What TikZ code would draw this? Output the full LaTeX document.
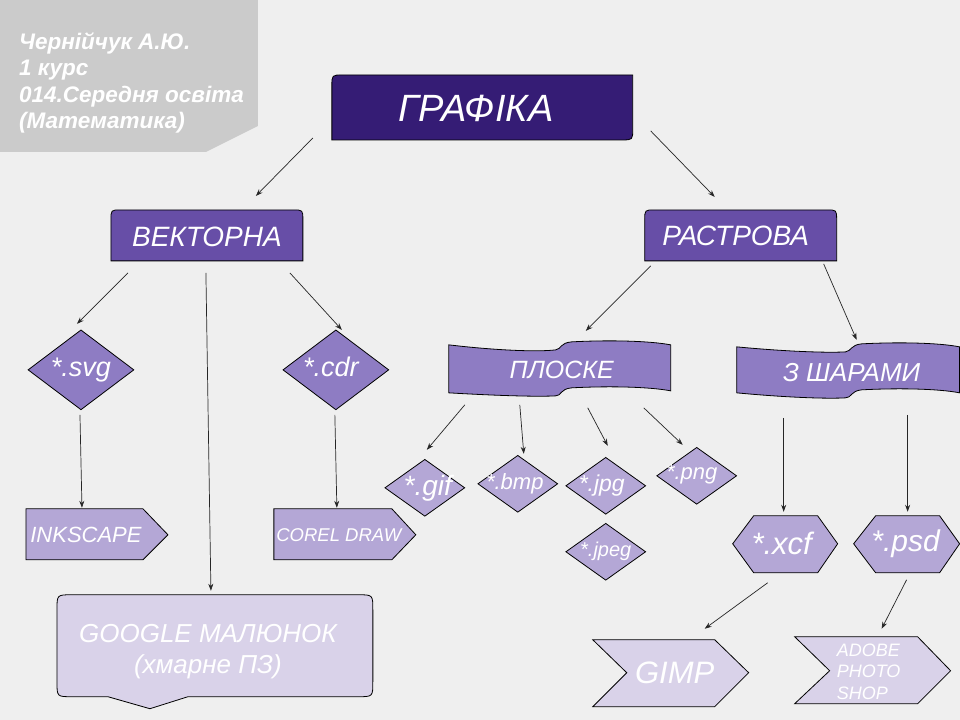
\documentclass[tikz,border=0pt]{standalone}
\usepackage{fontspec}
\setmainfont{Liberation Sans}
\usetikzlibrary{shapes.geometric, arrows.meta, calc}
\definecolor{pagebg}{HTML}{EFEFEF}
\definecolor{panelgray}{HTML}{CBCBCB}
\definecolor{darkviolet}{HTML}{351C75}
\definecolor{midviolet}{HTML}{674EA7}
\definecolor{violetA}{HTML}{8E7CC3}
\definecolor{violetB}{HTML}{B4A7D6}
\definecolor{violetC}{HTML}{D9D2E9}
\newcommand{\fsz}[2]{\fontsize{#1}{#2}\selectfont}

\begin{document}
\begin{tikzpicture}[
    x=1pt, y=-1pt,
    outline/.style={draw=black, line width=0.8pt},
    txt/.style={text=white, inner sep=0pt, align=center},
    bigdia/.style={diamond, draw=black, line width=0.8pt, fill=violetA, minimum width=106pt, minimum height=80pt, inner sep=0pt},
    smalldia/.style={diamond, draw=black, line width=0.8pt, fill=violetB, minimum width=80pt, minimum height=57pt, inner sep=0pt},
    line/.style={draw=black!85, line width=0.7pt, -{Stealth[length=7pt, width=5pt]}}
]
    % Background and author panel
    \fill [pagebg] (0,0) rectangle (960,720);
    \fill [panelgray] (0,0) -- (258,0) -- (258,126) -- (206,152) -- (0,152) -- cycle;
    \node [txt, align=left, anchor=north west, font=\fsz{22.5}{26.5}\bfseries\itshape] (author) at (19,32)
        {Чернійчук А.Ю.\\1 курс\\014.Середня освіта\\(Математика)};

    % Shapes drawn directly
    \path [outline, fill=darkviolet] (332,140) -- (332,86) .. controls (332,75) .. (343,75) -- (633,75)
        -- (633,129) .. controls (633,140) .. (622,140) -- cycle;
    \path [outline, fill=midviolet] (111,261) -- (111,220) .. controls (111,210) .. (121,210) -- (293,210)
        .. controls (303,210) .. (303,220) -- (303,261) -- cycle;
    \path [outline, fill=midviolet] (645,261) -- (645,220) .. controls (645,210) .. (655,210) -- (827,210)
        .. controls (837,210) .. (837,220) -- (837,261) -- cycle;
    \path [outline, fill=violetA] (449,345) .. controls (500,351) and (540,352) .. (556,350)
        .. controls (562,349) and (560,343) .. (572,342) .. controls (610,340) and (650,341) .. (671,345)
        -- (671,391) .. controls (650,387) and (610,386) .. (572,388) .. controls (560,389) and (562,396) .. (556,396)
        .. controls (540,397) and (500,396) .. (449,393) -- cycle;
    \path [outline, fill=violetA] (737,347) .. controls (790,352) and (830,353) .. (846,352)
        .. controls (852,351) and (851,345) .. (862,344) .. controls (900,342) and (940,343) .. (960,347)
        -- (960,393) .. controls (940,389) and (900,388) .. (862,390) .. controls (851,391) and (852,398) .. (846,398)
        .. controls (830,399) and (790,398) .. (737,393) -- cycle;
    \path [outline, fill=violetB] (26,509) -- (143,509) -- (168,535) -- (143,560) -- (26,560) -- cycle;
    \path [outline, fill=violetB] (274,509) -- (392,509) -- (416,535) -- (392,560) -- (274,560) -- cycle;
    \path [outline, fill=violetC] (72,595) -- (358,595) .. controls (373,595) .. (373,610) -- (373,682)
        .. controls (373,697) .. (358,697) -- (188,697) -- (150,709) -- (108,697) -- (72,697)
        .. controls (57,697) .. (57,682) -- (57,610) .. controls (57,595) .. (72,595) -- cycle;
    \path [outline, fill=violetB] (754,516) -- (818,516) -- (838,544) -- (818,573) -- (754,573) -- (733,544) -- cycle;
    \path [outline, fill=violetB] (876,516) -- (940,516) -- (960,544) -- (940,573) -- (876,573) -- (854,544) -- cycle;
    \path [outline, fill=violetC] (593,640) -- (715,640) -- (749,673) -- (715,707) -- (593,707) -- (627,673) -- cycle;
    \path [outline, fill=violetC] (795,637) -- (918,637) -- (951,671) -- (918,704) -- (795,704) -- (830,671) -- cycle;

    % Text nodes
    \node [txt, font=\fsz{38}{44}\itshape] (grafika) at (476,108) {ГРАФІКА};
    \node [txt, font=\fsz{28}{34}\itshape] (vektor) at (207,237) {ВЕКТОРНА};
    \node [txt, font=\fsz{28}{34}\itshape] (raster) at (736,236) {РАСТРОВА};
    \node [txt, font=\fsz{25}{30}\itshape] (plain) at (562,370) {ПЛОСКЕ};
    \node [txt, font=\fsz{26}{31}\itshape] (layers) at (852,373) {З ШАРАМИ};
    \node [txt, font=\fsz{22}{26}\itshape] (ink) at (86,535) {INKSCAPE};
    \node [txt, font=\fsz{18.5}{22}\itshape] (corel) at (339,535) {COREL DRAW};
    \node [txt, font=\fsz{26}{31}\itshape] (google) at (208,652) {GOOGLE МАЛЮНОК\\(хмарне ПЗ)};
    \node [txt, font=\fsz{31}{36}\itshape] (xcf) at (782,544) {*.xcf};
    \node [txt, font=\fsz{30}{36}\itshape] (psd) at (906,544) {*.psd};
    \node [txt, font=\fsz{31}{36}\itshape] (gimp) at (675,673) {GIMP};
    \node [txt, align=left, font=\fsz{18}{21.5}\itshape] (adobe) at (869,672) {ADOBE\\PHOTO\\SHOP};

    % Diamonds
    \node [bigdia, label={[txt, font=\fsz{27}{32}\itshape]center:*.svg}] (svg) at (81,370) {};
    \node [bigdia, label={[txt, font=\fsz{27}{32}\itshape, xshift=-5pt, yshift=3pt]center:*.cdr}] (cdr) at (336,370) {};
    \node [smalldia, label={[txt, font=\fsz{28}{32}\itshape, xshift=3pt]center:*.gif}] (gif) at (425,488) {};
    \node [smalldia, label={[txt, font=\fsz{22}{26}\itshape, xshift=-3pt]center:*.bmp}] (bmp) at (518,484) {};
    \node [smalldia, label={[txt, font=\fsz{23}{27}\itshape, xshift=-4pt]center:*.jpg}] (jpg) at (606,486) {};
    \node [smalldia, label={[txt, font=\fsz{22}{26}\itshape, xshift=-5pt, yshift=2pt]center:*.png}] (png) at (697,476) {};
    \node [smalldia, label={[txt, font=\fsz{20}{24}\itshape]center:*.jpeg}] (jpeg) at (606,552) {};

    % Connecting lines
    \path [line] ($(grafika)+(-163,30)$) -- ($(vektor)+(49,-41)$);
    \path [line] ($(grafika)+(175,23)$) -- ($(raster)+(-21,-39)$);
    \path [line] ($(vektor)+(-79,36)$) -- ($(svg)+(-4,-46)$);
    \path [line] ($(vektor)+(-1,36)$) -- ($(google)+(3,-61)$);
    \path [line] ($(vektor)+(83,36)$) -- ($(cdr)+(6,-40)$);
    \path [line] ($(raster)+(-85,30)$) -- ($(plain)+(24,-39)$);
    \path [line] ($(raster)+(88,28)$) -- ($(layers)+(5,-33)$);
    \path [line] ($(svg)+(-1,45)$) -- ($(ink)+(-4,-27)$);
    \path [line] ($(cdr)+(-1,45)$) -- ($(corel)+(-2,-27)$);
    \path [line] ($(plain)+(-97,35)$) -- ($(gif)+(2,-38)$);
    \path [line] ($(plain)+(-42,35)$) -- ($(bmp)+(6,-30)$);
    \path [line] ($(plain)+(26,38)$) -- ($(jpg)+(2,-40)$);
    \path [line] ($(plain)+(82,38)$) -- ($(png)+(-14,-31)$);
    \path [line] ($(layers)+(-68,45)$) -- ($(xcf)+(2,-32)$);
    \path [line] ($(layers)+(56,42)$) -- ($(psd)+(2,-32)$);
    \path [line] ($(xcf)+(-14,39)$) -- ($(gimp)+(30,-44)$);
    \path [line] ($(psd)+(1,36)$) -- ($(adobe)+(13,-43)$);
\end{tikzpicture}
\end{document}
